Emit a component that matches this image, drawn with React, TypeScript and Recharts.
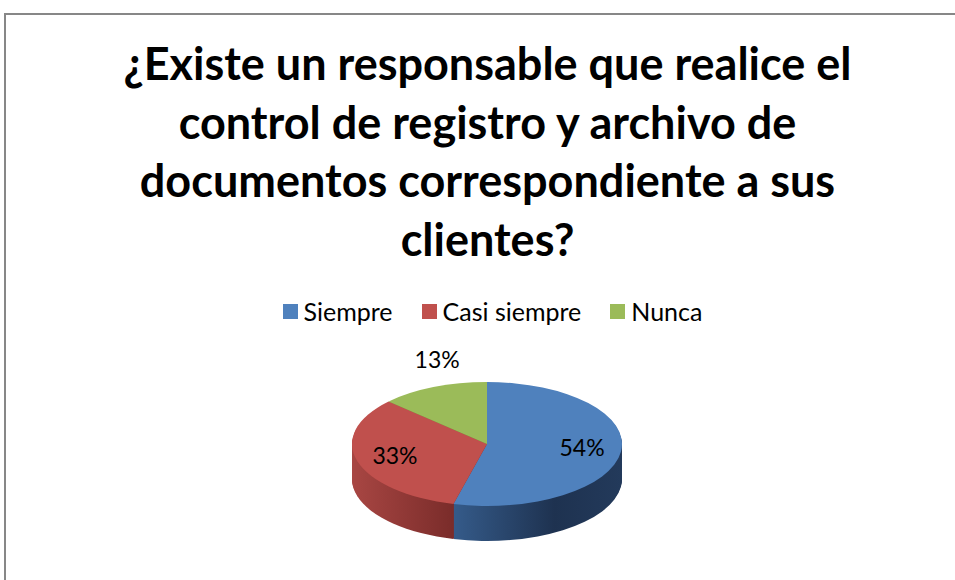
import React from "react";
import { PieChart, Pie, Cell, Legend } from "recharts";

// survey answers
const categories = ["Siempre", "Casi siempre", "Nunca"];
const shares = [54, 33, 13];
const topColors = ["#4f81bd", "#c0504d", "#9bbb59"];
const sideFills = ["url(#sideBlue)", "url(#sideRed)", "url(#sideGreen)"];
const titleLines = [
  "¿Existe un responsable que realice el",
  "control de registro y archivo de",
  "documentos correspondiente a sus",
  "clientes?",
];

const data = categories.map((name, i) => ({ name, value: shares[i] }));

// 3D-ish pie geometry (page coords)
const CX = 487;
const CY = 444;
const R = 135;
const RY = 62;
const DEPTH = 35;
const S = RY / R;
const PIE_H = 420;
const PC = 200; // pie centre inside the squashed svg
const layers = Array.from({ length: DEPTH }, (_, i) => DEPTH - i);

const FONT = "Lato, 'Open Sans', sans-serif";

const renderLabel = (p: any) => {
  const rad = Math.PI / 180;
  const c = Math.cos(-p.midAngle * rad);
  const sn = Math.sin(-p.midAngle * rad);
  const outside = p.percent < 0.2;
  const kx = outside ? 0.93 : 0.71;
  const ky = outside ? 1.42 : 0.88;
  return (
    <text
      x={p.cx + R * kx * c}
      y={p.cy + RY * ky * sn - 4}
      textAnchor="middle"
      dominantBaseline="central"
      fill="#000"
      fontSize={23}
      fontFamily={FONT}
    >
      {`${p.value}%`}
    </text>
  );
};

const LegendContent = ({ payload }: any) => {
  const items = [...(payload || [])].sort(
    (a: any, b: any) => categories.indexOf(a.value) - categories.indexOf(b.value)
  );
  return (
    <div style={{ display: "flex", justifyContent: "center", gap: 29, fontSize: 25, lineHeight: "30px", fontFamily: FONT, color: "#000" }}>
      {items.map((e: any) => (
        <span key={e.value} style={{ display: "flex", alignItems: "center" }}>
          <span style={{ width: 15, height: 15, background: e.color, marginRight: 6, display: "inline-block" }} />
          {e.value}
        </span>
      ))}
    </div>
  );
};

export default function App() {
  return (
    <div style={{ position: "absolute", left: 0, top: 0, width: 955, height: 580, overflow: "hidden", background: "#fff" }}>
      <div
        style={{
          position: "absolute", left: 4, top: 13, width: 1200, height: 1000,
          borderLeft: "2px solid #878787", borderTop: "2px solid #878787",
        }}
      />
      <div
        style={{
          position: "absolute", left: 0, top: 34, width: 975, textAlign: "center",
          fontFamily: FONT, fontWeight: 700, fontSize: 45, lineHeight: "58.5px", color: "#000",
        }}
      >
        {titleLines.map((t) => (
          <div key={t}>{t}</div>
        ))}
      </div>

      <div style={{ position: "absolute", left: 0, top: CY - PC, transform: `scaleY(${S})`, transformOrigin: `0 ${PC}px` }}>
        <PieChart width={955} height={PIE_H} margin={{ top: 0, right: 0, bottom: 0, left: 0 }}>
          <defs>
            <linearGradient id="sideBlue" gradientUnits="userSpaceOnUse" x1={CX - R * 0.25} x2={CX + R} y1={0} y2={0}>
              <stop offset="0" stopColor="#355b8a" />
              <stop offset="0.6" stopColor="#1e3250" />
              <stop offset="1" stopColor="#233a5b" />
            </linearGradient>
            <linearGradient id="sideRed" gradientUnits="userSpaceOnUse" x1={CX - R} x2={CX - R * 0.25} y1={0} y2={0}>
              <stop offset="0" stopColor="#a84643" />
              <stop offset="1" stopColor="#7a2c2a" />
            </linearGradient>
            <linearGradient id="sideGreen" gradientUnits="userSpaceOnUse" x1={CX - R} x2={CX + R} y1={0} y2={0}>
              <stop offset="0" stopColor="#76903f" />
              <stop offset="1" stopColor="#5c7131" />
            </linearGradient>
          </defs>
          {layers.map((d) => (
            <Pie
              key={d}
              data={data}
              dataKey="value"
              nameKey="name"
              cx={CX}
              cy={PC + d / S}
              outerRadius={R}
              startAngle={90}
              endAngle={-270}
              stroke="none"
              legendType="none"
              isAnimationActive={false}
            >
              {data.map((e, i) => (
                <Cell key={e.name} fill={sideFills[i]} stroke="none" />
              ))}
            </Pie>
          ))}
          <Pie
            data={data}
            dataKey="value"
            nameKey="name"
            cx={CX}
            cy={PC}
            outerRadius={R}
            startAngle={90}
            endAngle={-270}
            stroke="none"
            legendType="none"
            isAnimationActive={false}
          >
            {data.map((e, i) => (
              <Cell key={e.name} fill={topColors[i]} stroke="none" />
            ))}
          </Pie>
        </PieChart>
      </div>

      <div style={{ position: "absolute", left: 0, top: 0 }}>
        <PieChart width={955} height={580} margin={{ top: 0, right: 0, bottom: 0, left: 0 }}>
          <Legend
            verticalAlign="middle"
            align="center"
            layout="horizontal"
            itemSorter={null as any}
            content={<LegendContent />}
            wrapperStyle={{ top: 296, left: 0, width: 985 }}
          />
          <Pie
            data={data}
            dataKey="value"
            nameKey="name"
            cx={CX}
            cy={CY}
            outerRadius={R}
            startAngle={90}
            endAngle={-270}
            stroke="none"
            labelLine={false}
            label={renderLabel}
            isAnimationActive={false}
          >
            {data.map((e, i) => (
              <Cell key={e.name} fill={topColors[i]} fillOpacity={0} stroke="none" />
            ))}
          </Pie>
        </PieChart>
      </div>
    </div>
  );
}
